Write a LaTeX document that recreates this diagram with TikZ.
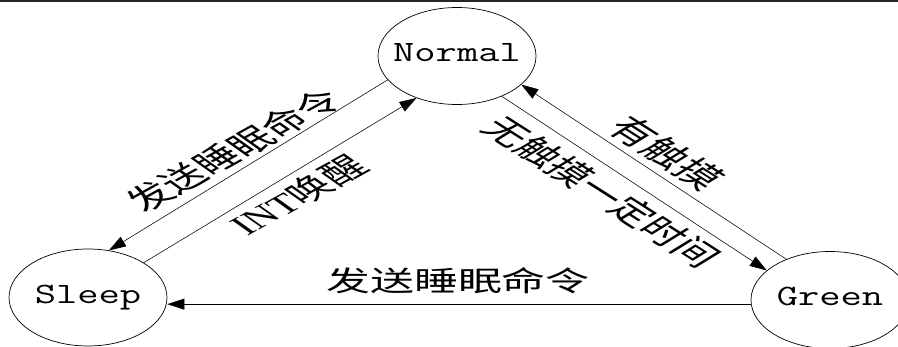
\documentclass[tikz,border=0pt]{standalone}
\usepackage{graphicx}
\usepackage{fontspec}
\setmainfont{Liberation Serif}
\newfontfamily\cjk{Noto Sans CJK SC}
\usetikzlibrary{shapes.geometric,arrows.meta}
\newcommand\stname[1]{\makebox[0pt]{\scalebox{1.4}[1]{#1}}}
\begin{document}
\begin{tikzpicture}[x=1pt,y=-1pt,
  state/.style={ellipse,draw,line width=0.7pt,minimum width=158pt,minimum height=97pt,
    inner sep=0pt,text height=18pt,text depth=6pt,font=\ttfamily\fontsize{29.5}{29.5}\selectfont},
  edge/.style={line width=0.55pt,-{Triangle[length=17pt,width=11pt]}},
  lab/.style={inner sep=0pt,transform shape,font=\cjk\fontsize{28}{28}\selectfont},
  hlab/.style={inner sep=0pt,font=\cjk\fontsize{28}{28}\selectfont}]
\useasboundingbox (0,0) rectangle (898,347);
\draw[line width=2pt,black!85] (0,1) -- (898,1);

\node[state] (N) at (457,56) {\stname{Normal}};
\node[state] (S) at (88,297.5) {\stname{Sleep}};
\node[state] (G) at (830,300) {\stname{Green}};

\draw[edge] (N.199) -- (S.66);
\draw[edge] (S.32) -- (N.226);
\draw[edge] (N.318) -- (G.155);
\draw[edge] (G.137) -- (N.336);
\draw[edge] (G.183) -- (G.183 -| S.east);

\node[hlab] (l5) at (458,280.5) {\scalebox{1.57}[1]{发送睡眠命令}};

\begin{scope}[shift={(233.7,150.3)},xscale=1.6,rotate=41.5]
  \node[lab] (l1) at (0,0) {发送睡眠命令};
\end{scope}
\begin{scope}[shift={(298,195)},xscale=1.6,rotate=41.5]
  \node[lab] (l2) at (0,0) {{\rmfamily INT}唤醒};
\end{scope}
\begin{scope}[shift={(666.7,153.3)},xscale=1.6,rotate=-45.5]
  \node[lab,font=\cjk\fontsize{29}{29}\selectfont] (l3) at (0,0) {有触摸};
\end{scope}
\begin{scope}[shift={(602,191.7)},xscale=1.6,rotate=-45.5]
  \node[lab] (l4) at (0,0) {无触摸一定时间};
\end{scope}
\end{tikzpicture}
\end{document}
